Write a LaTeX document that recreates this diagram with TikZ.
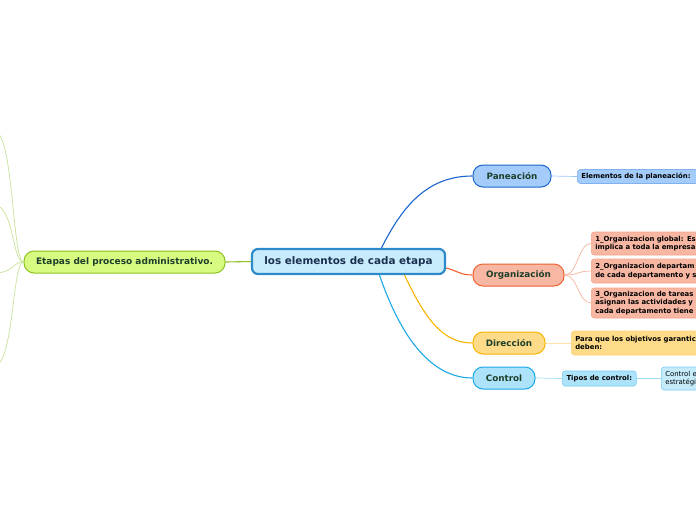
\documentclass[tikz,border=0pt]{standalone}
\usepackage{fontspec}
\setmainfont{DejaVu Sans}
\definecolor{centfill}{HTML}{C9ECFC}
\definecolor{centline}{HTML}{2D8BCB}
\definecolor{centtext}{HTML}{1B2F4F}
\definecolor{etfill}{HTML}{D7FA81}
\definecolor{etline}{HTML}{8DC21F}
\definecolor{etlight}{HTML}{C8E39A}
\definecolor{topictext}{HTML}{1E3F2A}
\definecolor{panfill}{HTML}{A3CCFA}
\definecolor{panline}{HTML}{1C64D0}
\definecolor{panlight}{HTML}{9CC6F6}
\definecolor{orgfill}{HTML}{F7B7A3}
\definecolor{orgline}{HTML}{F0612F}
\definecolor{orglight}{HTML}{F6B29C}
\definecolor{dirfill}{HTML}{FDDB88}
\definecolor{dirline}{HTML}{F7B500}
\definecolor{dirlight}{HTML}{FDE3A8}
\definecolor{ctlfill}{HTML}{ACE3FA}
\definecolor{ctlline}{HTML}{1AA8E6}
\definecolor{ctllight}{HTML}{9FDDF7}
\begin{document}
\begin{tikzpicture}[x=1pt,y=-1pt,
    topic/.style={draw,line width=1pt,rounded corners=10pt,minimum height=22pt,
      inner sep=0pt,text=topictext,font=\bfseries\fontsize{8.8}{10}\selectfont},
    leaf/.style={draw,line width=0.6pt,rounded corners=3pt,anchor=west,align=left,
      inner xsep=4pt,inner ysep=0pt,text=black,font=\bfseries\fontsize{6.9}{8.4}\selectfont},
    link/.style={line width=1.1pt},
    twig/.style={line width=0.7pt}]
\useasboundingbox (0,0) rectangle (696,520);

% main topic and the floating one
\node[draw=centline,fill=centfill,line width=2.2pt,rounded corners=6pt,
  minimum width=193pt,minimum height=25pt,inner sep=0pt,text=centtext,
  font=\bfseries\fontsize{10.4}{12}\selectfont] (central) at (348.5,261.5) {los elementos de cada etapa};
\node[topic,draw=etline,fill=etfill,minimum width=201pt,
  font=\bfseries\fontsize{9}{10}\selectfont] (etapas) at (124.5,262) {Etapas del proceso administrativo.};

% stages
\node[topic,draw=panline,fill=panfill,minimum width=78pt] (pan) at (512,176) {Paneación};
\node[topic,draw=orgline,fill=orgfill,minimum width=91pt] (org) at (518.5,275) {Organización};
\node[topic,draw=dirline,fill=dirfill,minimum width=72pt] (dir) at (509,343) {Dirección};
\node[topic,draw=ctlline,fill=ctlfill,minimum width=62pt] (ctl) at (504,378) {Control};

% leaves (cut by the right edge)
\node[leaf,draw=panlight!80!panline,fill=panfill,text width=125pt,minimum height=14pt] (panA) at (577,176.5) {Elementos de la planeación:};
\node[leaf,draw=orglight!80!orgline,fill=orgfill,text width=125pt,minimum height=23pt] (orgA) at (591,243.5)
  {1\_Organizacion global: Es\\implica a toda la empresa};
\node[leaf,draw=orglight!80!orgline,fill=orgfill,text width=125pt,minimum height=24pt] (orgB) at (591,271)
  {2\_Organizacion departam\\de cada departamento y s};
\node[leaf,draw=orglight!80!orgline,fill=orgfill,text width=125pt,minimum height=30pt] (orgC) at (591,303)
  {3\_Organizacion de tareas\\asignan las actividades y\\cada departamento tiene};
\node[leaf,draw=dirlight!70!dirline,fill=dirfill,text width=140pt,minimum height=24pt] (dirA) at (571,343)
  {Para que los objetivos garantic\\deben:};
\node[leaf,draw=ctllight!70!ctlline,fill=ctlfill,minimum width=74pt,minimum height=15pt] (ctlA) at (562,378.5) {Tipos de control:};
\node[leaf,draw=ctllight!70!ctlline,fill=ctlfill!70!white,text width=60pt,minimum height=23pt,
  font=\fontsize{6.9}{8.4}\selectfont] (ctlB) at (661,378.5) {Control e\\estratégi};

% off-page children of Etapas
\coordinate (e1) at (-6,131);
\coordinate (e2) at (-6,205);
\coordinate (e3) at (-6,273);
\coordinate (e4) at (-6,366);

% connectors
\draw[link,etline] (etapas.east) -- (central.west);
\draw[link,panline] ([xshift=33pt]central.north) .. controls (403,205) and (428,176) .. (pan.west);
\draw[link,orgline] ([yshift=-6.5pt]central.east) .. controls (458,271) and (460,275) .. (org.west);
\draw[link,dirline] ([xshift=56pt]central.south) .. controls (425,318) and (442,343) .. (dir.west);
\draw[link,ctlline] ([xshift=31pt]central.south) .. controls (400,335) and (430,378) .. (ctl.west);

\draw[twig,panlight] (pan.east) -- (panA.west);
\foreach \leafname in {orgA,orgB,orgC}
  \draw[twig,orglight] (org.east) .. controls (578,275) and (578,0|-\leafname.west) .. (\leafname.west);
\draw[twig,dirlight] (dir.east) -- (dirA.west);
\draw[twig,ctllight] (ctl.east) -- (ctlA.west);
\draw[twig,ctllight] (ctlA.east) -- (ctlB.west);

\foreach \pt in {e1,e2,e3,e4}
  \draw[twig,etlight] (etapas.west) .. controls (12,262) and (14,0|-\pt) .. (\pt);
\end{tikzpicture}
\end{document}
